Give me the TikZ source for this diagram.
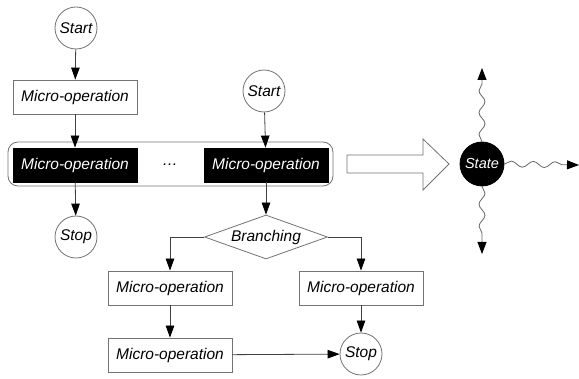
\documentclass[tikz,border=0pt]{standalone}
\usepackage{fontspec}
\setmainfont{Liberation Sans}
\usetikzlibrary{arrows.meta,shapes.geometric,decorations.pathmorphing}
\begin{document}
\begin{tikzpicture}[x=1pt,y=-1pt,line width=0.8pt,
  every node/.style={font=\fontsize{15.5}{18}\selectfont\itshape},
  opbox/.style={draw=black!55,fill=white,minimum width=124pt,minimum height=34pt,inner sep=0pt},
  blackbox/.style={draw=black,fill=black,text=white,minimum width=124pt,minimum height=34pt,inner sep=0pt},
  term/.style={draw=black!55,fill=white,circle,minimum size=42pt,inner sep=0pt},
  decision/.style={draw=black!55,fill=white,diamond,aspect=2.8,minimum width=123pt,minimum height=44pt,inner sep=0pt},
  conn/.style={draw=black!75,-{Triangle[length=12pt,width=8.5pt,color=black]}},
  wave/.style={draw=black!60,decorate,decoration={snake,amplitude=3pt,segment length=22pt,post length=12pt},-{Triangle[length=12pt,width=9pt,color=black]}}
]
\useasboundingbox (0,0) rectangle (579,379);
% container
\draw[black!55,rounded corners=10pt] (8,142) rectangle (333,186);
% nodes
\node[term] (s1) at (76,28) {Start};
\node[opbox] (m1) at (75,97) {Micro-operation};
\node[blackbox] (b1) at (75,165) {Micro-operation};
\node (dots) at (170,165) {\dots};
\node[blackbox] (b2) at (266,165) {Micro-operation};
\node[term] (s2) at (264,91) {Start};
\node[term] (p1) at (76,237) {Stop};
\node[decision] (d) at (266,237) {Branching};
\node[opbox] (m3) at (170,288) {Micro-operation};
\node[opbox] (m4) at (361,288) {Micro-operation};
\node[opbox] (m5) at (170,355) {Micro-operation};
\node[term] (p2) at (361,354) {Stop};
% connectors
\draw[conn] (s1) -- (m1);
\draw[conn] (m1) -- (b1);
\draw[conn] (b1) -- (p1);
\draw[conn] (s2) -- (b2);
\draw[conn] (b2) -- (d);
\draw[conn] (d.west) -| (m3.north);
\draw[conn] (d.east) -| (m4.north);
\draw[conn] (m3) -- (m5);
\draw[conn] (m5) -- (p2);
\draw[conn] (m4) -- (p2);
% big hollow arrow
\draw[black!55,fill=white] (347,155) -- (423,155) -- (423,139) -- (449,164) -- (423,190) -- (423,173) -- (347,173) -- cycle;
% state
\node[circle,fill=black,draw=black,text=white,minimum size=44pt,inner sep=0pt,font=\fontsize{14.5}{16}\selectfont\itshape] (st) at (482,164) {State};
\coordinate (up) at (482,68);
\coordinate (down) at (482,254);
\coordinate (right) at (579,165);
\draw[wave] (st.north) -- (up);
\draw[wave] (st.south) -- (down);
\draw[wave] (st.east) -- (right);
\end{tikzpicture}
\end{document}
